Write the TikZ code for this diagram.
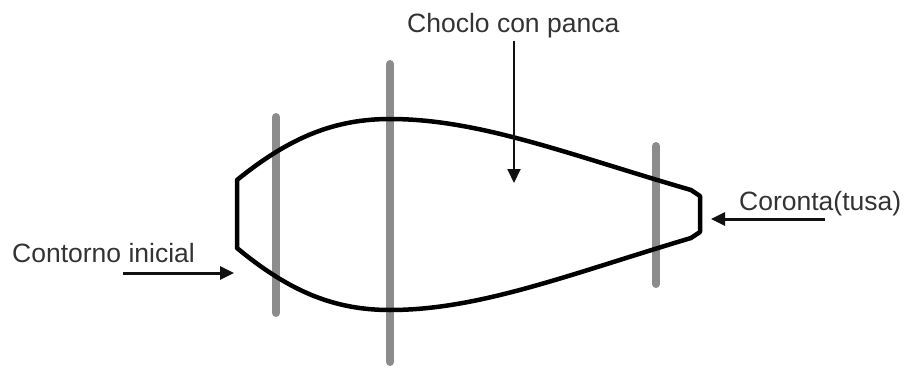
\documentclass[tikz,border=0pt]{standalone}
\usepackage{fontspec}
\setsansfont{Liberation Sans}
\usepackage{tikz}
\usetikzlibrary{arrows.meta, positioning}
\definecolor{rodgray}{HTML}{8C8C8C}
\definecolor{ink}{HTML}{111111}
\tikzset{
  % Outline of the ear
  contour/.style={draw=black, line width=4.5pt, line join=round},
  % Gray sticks crossing the ear
  rod/.style={draw=rodgray, line width=8pt, line cap=round},
  % Pointing arrows
  pointer/.style={-{Triangle[length=14pt, width=13pt]}, line width=3pt, ink},
  thinpointer/.style={-{Triangle[length=14pt, width=13pt]}, line width=2pt, ink},
  % Labels
  caption/.style={font=\sffamily\fontsize{26.5}{30}\selectfont, text=black!80,
                  inner sep=0pt, anchor=base west},
}

\begin{document}
\begin{tikzpicture}[x=1pt, y=-1pt]
\useasboundingbox (0,0) rectangle (905,367);

% ====================================================================
% Rods
% ====================================================================
\draw[rod] (276,117) -- (276,313);
\draw[rod] (390,64) -- (390,362);
\draw[rod] (656,146) -- (656,284);

% ====================================================================
% Ear outline
% ====================================================================
\draw[contour] (237,180) .. controls (290,137) and (335,119) .. (390,119)
  .. controls (480,119) and (570,155) .. (691,190) -- (700,196) -- (700,232)
  -- (691,238) .. controls (570,274) and (480,310) .. (390,310)
  .. controls (335,310) and (290,292) .. (237,248) -- cycle;

% ====================================================================
% Labels and arrows
% ====================================================================
\node[caption] (choclo) at (407,32) {Choclo con panca};
\coordinate (grain) at (514,183);
\draw[thinpointer] ([yshift=-3pt]choclo.south -| grain) -- (grain);

\node[caption] (contorno) at (12,262) {Contorno inicial};
\coordinate (contornotail) at (123,273);
\coordinate (contornotip) at (234,273);
\draw[pointer] (contornotail) -- (contornotip);

\node[caption] (coronta) at (739,210) {Coronta(tusa)};
\coordinate (corontatail) at (825,219);
\coordinate (corontatip) at (711,219);
\draw[pointer] (corontatail) -- (corontatip);

\end{tikzpicture}
\end{document}
